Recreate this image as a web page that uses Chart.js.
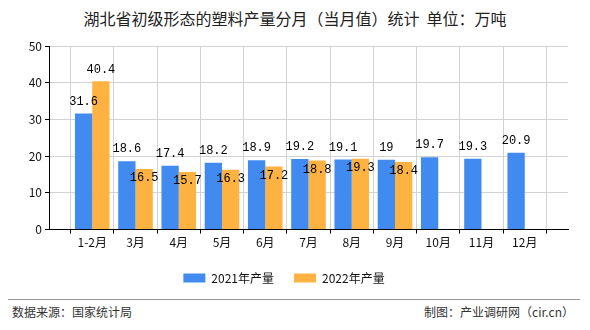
<!DOCTYPE html>
<html>
<head>
<meta charset="utf-8">
<script src="https://cdn.jsdelivr.net/npm/chart.js@4.4.1/dist/chart.umd.min.js"></script>
<style>
  html, body { margin: 0; padding: 0; background: #fff; }
  body { width: 590px; height: 330px; position: relative; overflow: hidden;
         font-family: "Noto Sans CJK SC", "DejaVu Sans", sans-serif; color: #222; }
  #title { position: absolute; left: 0; top: 8px; width: 590px; text-align: center;
           font-size: 16px; line-height: 20px; }
  #wrap { position: absolute; left: 0; top: 0; width: 590px; height: 294px; }
  #rule { position: absolute; left: 8px; top: 299px; width: 572px; height: 1px; background: #999; }
  .foot { position: absolute; top: 304px; font-size: 12px; line-height: 16px; color: #333; }
  #src { left: 12px; }
  #maker { right: 16px; }
</style>
</head>
<body>
<div id="title">湖北省初级形态的塑料产量分月（当月值）统计&nbsp;&nbsp;单位：万吨</div>
<div id="wrap"><canvas id="barChart" width="590" height="294"></canvas></div>
<div id="rule"></div>
<div class="foot" id="src">数据来源：国家统计局</div>
<div class="foot" id="maker">制图：产业调研网（cir.cn）</div>

<script>
/* ================= DATA ================= */
const MONTHS = ["1-2月", "3月", "4月", "5月", "6月", "7月", "8月", "9月", "10月", "11月", "12月"];
const OUTPUT_2021 = [31.6, 18.6, 17.4, 18.2, 18.9, 19.2, 19.1, 19, 19.7, 19.3, 20.9];
const OUTPUT_2022 = [40.4, 16.5, 15.7, 16.3, 17.2, 18.8, 19.3, 18.4, null, null, null];
const Y_TICKS = [0, 10, 20, 30, 40, 50];

const BLUE = "#418bf0";
const ORANGE = "#fdb241";

/* axis runs from an empty slot at the y axis to an empty slot at the right edge */
const labels = ["", ...MONTHS, ""];
const pad = arr => [null, ...arr, null];

/* ================= VALUE LABELS ================= */
const valueLabels = {
    id: "valueLabels",
    afterDatasetsDraw(chart) {
        const ctx = chart.ctx;
        const m0 = chart.getDatasetMeta(0);
        const m1 = chart.getDatasetMeta(1);
        ctx.save();
        ctx.font = "12px 'Liberation Mono', 'DejaVu Sans Mono', monospace";
        ctx.fillStyle = "#000";
        ctx.textAlign = "center";
        ctx.textBaseline = "middle";

        chart.data.datasets[0].data.forEach((v, i) => {
            if (v === null) return;
            const bar = m0.data[i];
            ctx.fillText(String(v), bar.x, bar.y - 12);
        });

        chart.data.datasets[1].data.forEach((v, i) => {
            if (v === null) return;
            const bar = m1.data[i];
            const other = m0.data[i];
            /* push the label inside the bar when it would collide with the neighbour's label */
            const clash = other && chart.data.datasets[0].data[i] !== null &&
                Math.abs(other.y - bar.y) < 16;
            const y = clash ? bar.y + 9 : bar.y - 11;
            ctx.fillText(String(v), bar.x, y);
        });
        ctx.restore();
    }
};

/* ================= BAR CHART ================= */
Chart.defaults.font.family = "'Noto Sans CJK SC', 'DejaVu Sans', sans-serif";
Chart.defaults.font.size = 12;
Chart.defaults.color = "#222";

new Chart(document.getElementById("barChart"), {
    type: "bar",
    data: {
        labels: labels,
        datasets: [
            { label: "2021年产量", data: pad(OUTPUT_2021), backgroundColor: BLUE,
              categoryPercentage: 0.8, barPercentage: 1.0 },
            { label: "2022年产量", data: pad(OUTPUT_2022), backgroundColor: ORANGE,
              categoryPercentage: 0.8, barPercentage: 1.0 }
        ]
    },
    options: {
        responsive: false,
        animation: false,
        layout: { padding: { left: 0, right: 22, top: 46, bottom: 0 } },
        scales: {
            x: {
                offset: false,
                grid: { color: "#d2d2d2", tickColor: "#000", tickLength: 4, drawTicks: true },
                border: { color: "#000", width: 1 },
                ticks: { autoSkip: false, maxRotation: 0, padding: 2, color: "#111" }
            },
            y: {
                min: 0,
                max: 50,
                afterBuildTicks: scale => { scale.ticks = Y_TICKS.map(v => ({ value: v })); },
                afterFit: scale => { scale.width = 49; },
                grid: { color: "#d2d2d2", tickColor: "#000", tickLength: 4 },
                border: { color: "#000", width: 1 },
                ticks: { padding: 3, color: "#111" }
            }
        },
        plugins: {
            legend: {
                position: "bottom",
                labels: { boxWidth: 22, boxHeight: 9, padding: 20, color: "#111" }
            },
            tooltip: { enabled: false }
        }
    },
    plugins: [valueLabels]
});
</script>
</body>
</html>
